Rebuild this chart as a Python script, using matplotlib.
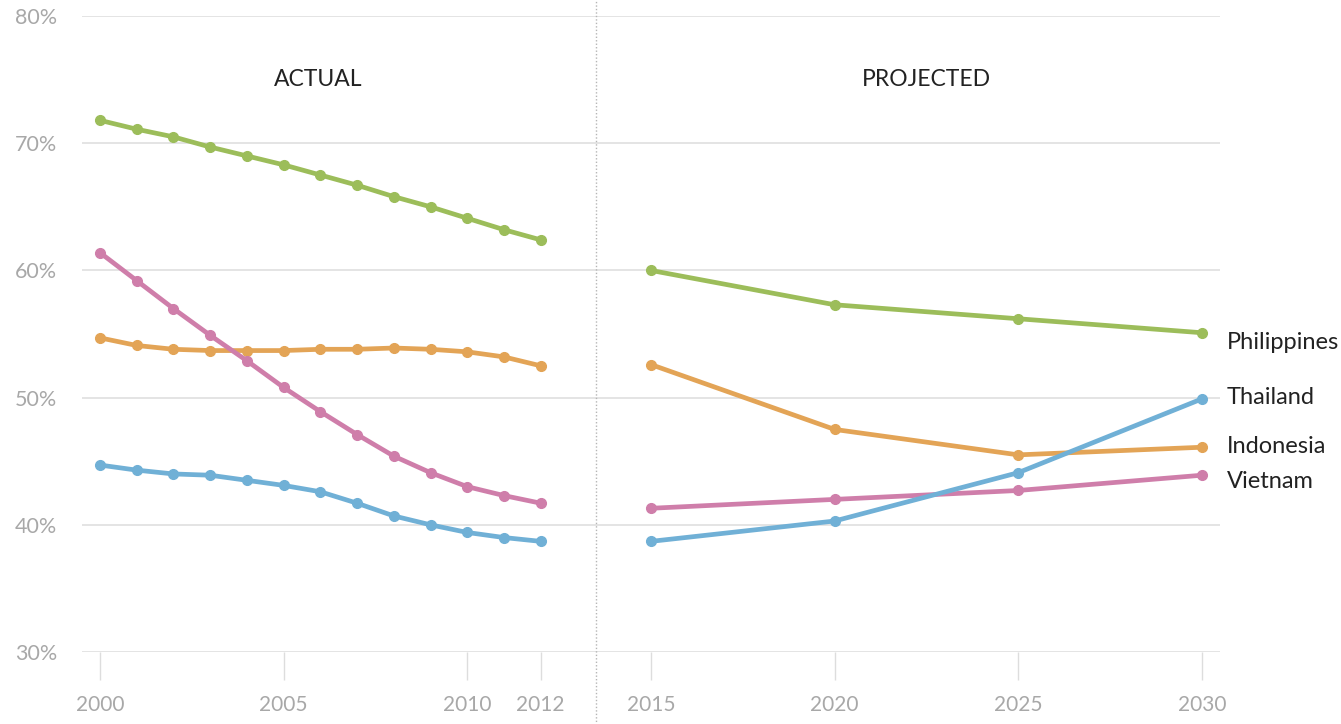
#!/usr/bin/env python3
# -*- coding: utf-8 -*-
import numpy as np
import matplotlib
matplotlib.use("Agg")
import matplotlib.pyplot as plt

# =============================================================================
# Data (share in %)
# =============================================================================
years_actual = [2000, 2001, 2002, 2003, 2004, 2005, 2006, 2007, 2008, 2009, 2010, 2011, 2012]
years_proj = [2015, 2020, 2025, 2030]

philippines_actual = [71.8, 71.1, 70.5, 69.7, 69.0, 68.3, 67.5, 66.7, 65.8, 65.0, 64.1, 63.2, 62.4]
indonesia_actual = [54.7, 54.1, 53.8, 53.7, 53.7, 53.7, 53.8, 53.8, 53.9, 53.8, 53.6, 53.2, 52.5]
vietnam_actual = [61.4, 59.2, 57.0, 54.9, 52.9, 50.8, 48.9, 47.1, 45.4, 44.1, 43.0, 42.3, 41.7]
thailand_actual = [44.7, 44.3, 44.0, 43.9, 43.5, 43.1, 42.6, 41.7, 40.7, 40.0, 39.4, 39.0, 38.7]

philippines_proj = [60.0, 57.3, 56.2, 55.1]
indonesia_proj = [52.6, 47.5, 45.5, 46.1]
vietnam_proj = [41.3, 42.0, 42.7, 43.9]
thailand_proj = [38.7, 40.3, 44.1, 49.9]

countries = ["Philippines", "Thailand", "Indonesia", "Vietnam"]
xticks = [2000, 2005, 2010, 2012, 2015, 2020, 2025, 2030]
yticks = [30, 40, 50, 60, 70, 80]

# =============================================================================
# Styling
# =============================================================================
plt.rcParams["font.family"] = ["Lato", "DejaVu Sans"]

colors = {
    "Philippines": "#9cbd5a",
    "Indonesia": "#e3a456",
    "Vietnam": "#cf7eaa",
    "Thailand": "#70b0d6",
}
label_offset = {  # baseline shift of end labels, points
    "Philippines": -11.5,
    "Thailand": -3.8,
    "Indonesia": -4.5,
    "Vietnam": -9.5,
}

series = {
    "Philippines": (philippines_actual, philippines_proj),
    "Indonesia": (indonesia_actual, indonesia_proj),
    "Vietnam": (vietnam_actual, vietnam_proj),
    "Thailand": (thailand_actual, thailand_proj),
}

fig = plt.figure(figsize=(13.41, 7.24), dpi=100)
ax = fig.add_axes([0.0611, 0.0994, 0.8486, 0.8785])

for y in yticks:
    ax.axhline(y, color="#e2e2e2", lw=1.3, zorder=0)

for name, (act, proj) in series.items():
    c = colors[name]
    ax.plot(years_actual, act, color=c, lw=3.4, marker="o", ms=7,
            solid_capstyle="round", zorder=3)
    ax.plot(years_proj, proj, color=c, lw=3.4, marker="o", ms=7,
            solid_capstyle="round", zorder=3)

for name in countries:
    ax.annotate(name, xy=(years_proj[-1], series[name][1][-1]),
                xytext=(18, label_offset[name]), textcoords="offset points",
                ha="left", va="baseline", fontsize=17, color="#222222",
                annotation_clip=False)

# divider between actual and projected
ax.axvline(2013.5, ymin=-0.12, ymax=1.03, color="#b5b5b5", lw=1,
           ls=(0, (1, 1.5)), clip_on=False, zorder=1)

ax.text(2005.95, 75.0, "ACTUAL", ha="center", va="center", fontsize=16.5, color="#222222")
ax.text(2022.5, 75.0, "PROJECTED", ha="center", va="center", fontsize=16.5, color="#222222")

ax.set_xlim(1999.51, 2030.49)
ax.set_ylim(30, 80)
ax.set_xticks(xticks)
ax.set_xticklabels([str(x) for x in xticks])
ax.set_yticks(yticks)
ax.set_yticklabels([f"{y}%" for y in yticks])

for s in ax.spines.values():
    s.set_visible(False)
ax.tick_params(axis="x", length=20, width=1, color="#dddddd", pad=11,
               labelsize=15, labelcolor="#a8a8a8")
ax.tick_params(axis="y", length=0, pad=18, labelsize=15.5, labelcolor="#a8a8a8")

fig.savefig("out.png", dpi=100, facecolor="white")
